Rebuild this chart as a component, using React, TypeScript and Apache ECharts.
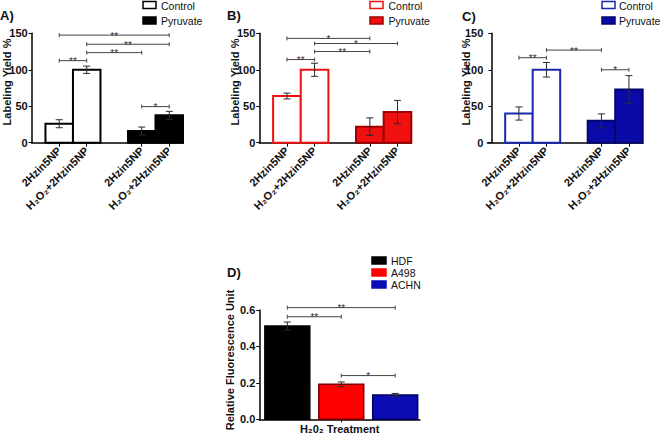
import React, { useEffect, useRef } from 'react';
import * as echarts from 'echarts';

const FONT = '"Liberation Sans", Arial, sans-serif';

// Panels A-C: categories and positions on the x value axis (gap in the middle)
const categoriesABC = ['2Hzin5NP', 'H₂O₂+2Hzin5NP', '2Hzin5NP', 'H₂O₂+2Hzin5NP'];
const positionsABC = [1, 2, 4, 5];
const legendABC = ['Control', 'Pyruvate'];

const valuesA = [26, 100, 16, 37.5];
const errorsA = [5.5, 5, 5.5, 5.5];
const valuesB = [64, 100, 22, 42];
const errorsB = [4, 9, 12, 16];
const valuesC = [40, 100, 30, 73];
const errorsC = [9, 10, 9.5, 19];

// brackets: [fromIndex, toIndex, yValue, label]
const bracketsA: [number, number, number, string][] = [
  [0, 3, 147.5, '**'],
  [1, 3, 135, '**'],
  [1, 2, 123.5, '**'],
  [0, 1, 112.5, '**'],
  [2, 3, 49.5, '*'],
];
const bracketsB: [number, number, number, string][] = [
  [0, 2, 143, '*'],
  [1, 3, 136, '*'],
  [1, 2, 125, '**'],
  [0, 1, 114, '**'],
];
const bracketsC: [number, number, number, string][] = [
  [0, 1, 116.5, '**'],
  [1, 2, 127, '**'],
  [2, 3, 100, '*'],
];

// Panel D
const cellLines = ['HDF', 'A498', 'ACHN'];
const positionsD = [1, 2, 3];
const valuesD = [0.512, 0.192, 0.134];
const errorsD = [0.022, 0.013, 0.008];
const bracketsD: [number, number, number, string][] = [
  [0, 2, 0.613, '**'],
  [0, 1, 0.563, '**'],
  [1, 2, 0.24, '*'],
];
const xNameD = 'H₂0₂ Treatment';
const yNameABC = 'Labeling Yield %';
const yNameD = 'Relative Fluorescence Unit';

function barSeries(gi: number, positions: number[], values: number[], fills: string[], strokes: string[], halfW: number, lw: number) {
  return {
    type: 'custom',
    xAxisIndex: gi,
    yAxisIndex: gi,
    z: 2,
    data: positions.map((p, k) => [p, values[k]]),
    renderItem: (params: any, api: any) => {
      const i = params.dataIndex;
      const x = api.value(0);
      const v = api.value(1);
      const p0 = api.coord([x - halfW, v]);
      const p1 = api.coord([x + halfW, 0]);
      return {
        type: 'rect',
        shape: { x: p0[0], y: p0[1], width: p1[0] - p0[0], height: p1[1] - p0[1] },
        style: { fill: fills[i], stroke: strokes[i], lineWidth: lw },
      };
    },
  };
}

function errorSeries(gi: number, positions: number[], values: number[], errors: number[]) {
  return {
    type: 'custom',
    xAxisIndex: gi,
    yAxisIndex: gi,
    z: 3,
    data: positions.map((p, k) => [p, values[k], errors[k]]),
    renderItem: (params: any, api: any) => {
      const x = api.value(0);
      const v = api.value(1);
      const e = api.value(2);
      const t = api.coord([x, v + e]);
      const b = api.coord([x, v - e]);
      const c = 3.5;
      const st = { stroke: '#2a2a2a', lineWidth: 1 };
      return {
        type: 'group',
        children: [
          { type: 'line', shape: { x1: t[0], y1: t[1], x2: b[0], y2: b[1] }, style: st },
          { type: 'line', shape: { x1: t[0] - c, y1: t[1], x2: t[0] + c, y2: t[1] }, style: st },
          { type: 'line', shape: { x1: b[0] - c, y1: b[1], x2: b[0] + c, y2: b[1] }, style: st },
        ],
      };
    },
  };
}

function bracketSeries(gi: number, positions: number[], brackets: [number, number, number, string][]) {
  return {
    type: 'custom',
    xAxisIndex: gi,
    yAxisIndex: gi,
    z: 4,
    data: brackets.map((b) => [positions[b[0]], positions[b[1]], b[2]]),
    renderItem: (params: any, api: any) => {
      const lab = brackets[params.dataIndex][3];
      const a = api.coord([api.value(0), api.value(2)]);
      const b = api.coord([api.value(1), api.value(2)]);
      const st = { stroke: '#444', lineWidth: 1 };
      return {
        type: 'group',
        children: [
          { type: 'line', shape: { x1: a[0], y1: a[1], x2: b[0], y2: b[1] }, style: st },
          { type: 'line', shape: { x1: a[0], y1: a[1] - 2, x2: a[0], y2: a[1] + 2 }, style: st },
          { type: 'line', shape: { x1: b[0], y1: b[1] - 2, x2: b[0], y2: b[1] + 2 }, style: st },
          {
            type: 'text',
            x: (a[0] + b[0]) / 2,
            y: a[1] + 1,
            style: {
              text: lab,
              font: `10px ${FONT}`,
              fill: '#333',
              align: 'center',
              verticalAlign: 'middle',
            },
          },
        ],
      };
    },
  };
}

function labelText(v: number) {
  const k = positionsABC.indexOf(Math.round(v));
  return k >= 0 ? categoriesABC[k] : '';
}

function xAxisABC(gi: number, min: number) {
  return {
    type: 'value',
    gridIndex: gi,
    min,
    max: 5.5,
    axisLine: { show: true, lineStyle: { color: '#000', width: 1.5 } },
    axisTick: { show: true, customValues: positionsABC, length: 4, lineStyle: { color: '#000', width: 1 } },
    axisLabel: {
      show: true,
      customValues: positionsABC,
      rotate: 45,
      margin: 6,
      formatter: (v: number) => labelText(v),
      fontFamily: FONT,
      fontWeight: 'bold',
      fontSize: 11,
      color: '#111',
    },
    splitLine: { show: false },
  };
}

function yAxisABC(gi: number) {
  return {
    type: 'value',
    gridIndex: gi,
    min: 0,
    max: 150,
    interval: 50,
    axisLine: { show: true, lineStyle: { color: '#000', width: 1.5 } },
    axisTick: { show: true, length: 3, lineStyle: { color: '#000', width: 1 } },
    axisLabel: { margin: 4, fontFamily: FONT, fontWeight: 'bold', fontSize: 11, color: '#111' },
    splitLine: { show: false },
  };
}

function txt(text: string, x: number, y: number, size: number, bold: boolean, opts: any = {}) {
  return {
    type: 'text',
    x,
    y,
    rotation: opts.rotation || 0,
    style: {
      text,
      font: `${bold ? 'bold ' : ''}${size}px ${FONT}`,
      fill: opts.fill || '#111',
      align: opts.align || 'left',
      verticalAlign: 'middle',
    },
  };
}

function box(x: number, y: number, w: number, h: number, fill: string, stroke: string) {
  return { type: 'rect', shape: { x, y, width: w, height: h }, style: { fill, stroke, lineWidth: 1.5 } };
}

export default function App() {
  const ref = useRef<HTMLDivElement>(null);
  useEffect(() => {
    if (!ref.current) return;
    const chart = echarts.init(ref.current, null, { renderer: 'svg' });
    const red = '#f01010';
    const darkRed = '#a00000';
    const blue = '#0a0aa8';
    const darkBlue = '#05056e';
    const option: any = {
      animation: false,
      backgroundColor: '#fff',
      grid: [
        { left: 31.7, top: 33.3, width: 151.3, height: 109.4, outerBoundsMode: 'none' },
        { left: 259.3, top: 33.3, width: 152, height: 109.4, outerBoundsMode: 'none' },
        { left: 487.3, top: 33.3, width: 155.4, height: 109.4, outerBoundsMode: 'none' },
        { left: 259.3, top: 310, width: 160.7, height: 109.3, outerBoundsMode: 'none' },
      ],
      xAxis: [
        xAxisABC(0, 0),
        xAxisABC(1, 0),
        xAxisABC(2, -0.15),
        {
          type: 'value',
          gridIndex: 3,
          min: 0.48,
          max: 3.46,
          name: xNameD,
          nameLocation: 'middle',
          nameGap: 4,
          nameTextStyle: { fontFamily: FONT, fontWeight: 'bold', fontSize: 11, color: '#111', verticalAlign: 'top' },
          axisLine: { show: true, lineStyle: { color: '#000', width: 1.5 } },
          axisTick: { show: true, customValues: [2], length: 3, lineStyle: { color: '#000' } },
          axisLabel: { show: false },
          splitLine: { show: false },
        },
      ],
      yAxis: [
        yAxisABC(0),
        yAxisABC(1),
        yAxisABC(2),
        {
          type: 'value',
          gridIndex: 3,
          min: 0,
          max: 0.6,
          interval: 0.2,
          axisLine: { show: true, lineStyle: { color: '#000', width: 1.5 } },
          axisTick: { show: true, length: 3, lineStyle: { color: '#000', width: 1 } },
          axisLabel: {
            margin: 4,
            formatter: (v: number) => v.toFixed(1),
            fontFamily: FONT,
            fontWeight: 'bold',
            fontSize: 11,
            color: '#111',
          },
          splitLine: { show: false },
        },
      ],
      series: [
        barSeries(0, positionsABC, valuesA, ['#fff', '#fff', '#000', '#000'], ['#000', '#000', '#000', '#000'], 0.5, 2),
        errorSeries(0, positionsABC, valuesA, errorsA),
        bracketSeries(0, positionsABC, bracketsA),
        barSeries(1, positionsABC, valuesB, ['#fff', '#fff', red, red], [red, red, darkRed, darkRed], 0.5, 2),
        errorSeries(1, positionsABC, valuesB, errorsB),
        bracketSeries(1, positionsABC, bracketsB),
        barSeries(2, positionsABC, valuesC, ['#fff', '#fff', blue, blue], ['#1a28b0', '#1a28b0', darkBlue, darkBlue], 0.5, 2),
        errorSeries(2, positionsABC, valuesC, errorsC),
        bracketSeries(2, positionsABC, bracketsC),
        barSeries(3, positionsD, valuesD, ['#000', '#ff0000', '#0c0cb4'], ['#000', '#7a0000', '#00005a'], 0.4167, 1.5),
        errorSeries(3, positionsD, valuesD, errorsD),
        bracketSeries(3, positionsD, bracketsD),
      ],
      graphic: [
        // panel labels
        txt('A)', 0, 15, 13, true),
        txt('B)', 227, 15.5, 13, true),
        txt('C)', 462, 16, 13, true),
        txt('D)', 227, 272, 13, true),
        // y axis names
        txt(yNameABC, 7, 82, 11, true, { rotation: Math.PI / 2, align: 'center' }),
        txt(yNameABC, 234.5, 82, 11, true, { rotation: Math.PI / 2, align: 'center' }),
        txt(yNameABC, 466, 82, 11, true, { rotation: Math.PI / 2, align: 'center' }),
        txt(yNameD, 230, 360, 11, true, { rotation: Math.PI / 2, align: 'center' }),
        // legend A
        box(143, 1.5, 13, 7, '#fff', '#000'),
        txt(legendABC[0], 161, 5.5, 10.5, false),
        box(143, 17, 13, 7, '#000', '#000'),
        txt(legendABC[1], 161, 21, 10.5, false),
        // legend B
        box(370, 1.5, 13, 7, '#fff', red),
        txt(legendABC[0], 388.5, 5.5, 10.5, false),
        box(370, 17, 13, 7, red, darkRed),
        txt(legendABC[1], 388.5, 21, 10.5, false),
        // legend C
        box(602, 1.5, 13, 7, '#fff', '#1a28b0'),
        txt(legendABC[0], 619, 5.5, 10.5, false),
        box(602, 17, 13, 7, blue, darkBlue),
        txt(legendABC[1], 619, 21, 10.5, false),
        // legend D
        box(372, 257, 14, 7, '#000', '#000'),
        txt(cellLines[0], 391, 260.5, 10.5, false),
        box(372, 269, 14, 7, '#ff0000', '#ff0000'),
        txt(cellLines[1], 391, 272.5, 10.5, false),
        box(372, 281, 14, 7, '#0c0cb4', '#0c0cb4'),
        txt(cellLines[2], 391, 284.5, 10.5, false),
      ],
    };
    chart.setOption(option);
    return () => chart.dispose();
  }, []);
  return <div ref={ref} style={{ position: 'fixed', left: 0, top: 0, width: 660, height: 435 }} />;
}
